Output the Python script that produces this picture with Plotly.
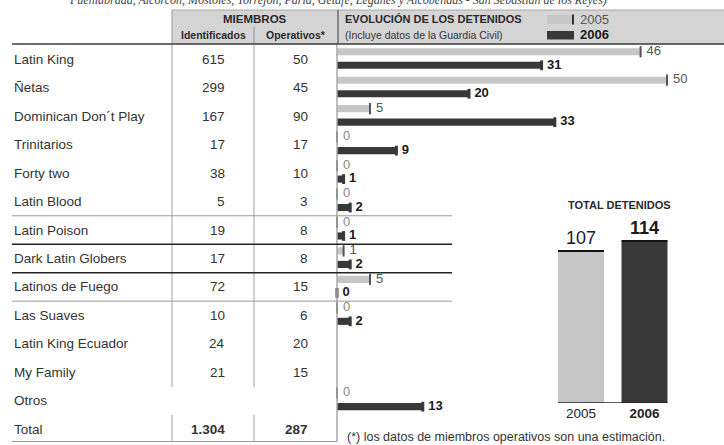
import plotly.graph_objects as go

# ---------------- data ----------------
gangs = ["Latin King", "Ñetas", "Dominican Don´t Play", "Trinitarios", "Forty two",
         "Latin Blood", "Latin Poison", "Dark Latin Globers", "Latinos de Fuego",
         "Las Suaves", "Latin King Ecuador", "My Family", "Otros", "Total"]
identificados = [615, 299, 167, 17, 38, 5, 19, 17, 72, 10, 24, 21, None, 1304]
operativos = [50, 45, 90, 17, 10, 3, 8, 8, 15, 6, 20, 15, None, 287]
det_2005 = [46, 50, 5, 0, 0, 0, 0, 1, 5, 0, None, None, 0]
det_2006 = [31, 20, 33, 9, 1, 2, 1, 2, 0, 2, None, None, 13]
years = ["2005", "2006"]
total_detenidos = [107, 114]
separators = [(5.5, "#9a9a9a", 1), (6.5, "#222222", 1.5), (7.5, "#222222", 1.5), (8.5, "#9a9a9a", 1)]

# ---------------- layout helpers ----------------
W, H = 724, 445
ROW0, ROWH = 59.3, 28.45
PXU = 6.6           # pixels per detainee in the row bars
AX0 = 337           # pixel x of bar axis
FONT = "Liberation Sans, Arial, Helvetica, sans-serif"
C05, C06 = "#c6c6c6", "#383838"
TXT = "#2a2a2a"


def fx(p):
    return p / W


def fy(p):
    return 1 - p / H


def fmt(v):
    return f"{v:,}".replace(",", ".")


fig = go.Figure()

OFF05, OFF06, BW = -0.265, 0.21, 0.25

r05 = [i for i, v in enumerate(det_2005) if v is not None]
r06 = [i for i, v in enumerate(det_2006) if v is not None]

fig.add_trace(go.Bar(orientation="h", x=[det_2005[i] for i in r05], y=[i + OFF05 for i in r05],
                     width=BW, marker=dict(color=C05, line_width=0), showlegend=False,
                     xaxis="x", yaxis="y"))
fig.add_trace(go.Bar(orientation="h", x=[det_2006[i] for i in r06], y=[i + OFF06 for i in r06],
                     width=BW, marker=dict(color=C06, line_width=0), showlegend=False,
                     xaxis="x", yaxis="y"))

fig.add_trace(go.Scatter(
    x=[det_2005[i] for i in r05], y=[i + OFF05 for i in r05], mode="markers+text",
    marker=dict(symbol="line-ns", size=8, line=dict(width=2, color="#555555")),
    text=[str(det_2005[i]) for i in r05], textposition="middle right",
    textfont=dict(family=FONT, size=13, color=["#888888" if det_2005[i] == 0 else "#555555" for i in r05]),
    cliponaxis=False, showlegend=False, hoverinfo="skip"))
fig.add_trace(go.Scatter(
    x=[det_2006[i] for i in r06], y=[i + OFF06 for i in r06], mode="markers+text",
    marker=dict(symbol="line-ns", size=7, line=dict(width=3, color=C06)),
    text=[f"<b>{det_2006[i]}</b>" for i in r06], textposition="middle right",
    textfont=dict(family=FONT, size=13, color="#1a1a1a"),
    cliponaxis=False, showlegend=False, hoverinfo="skip"))

# total chart
fig.add_trace(go.Bar(x=years, y=total_detenidos, xaxis="x2", yaxis="y2", width=0.724,
                     marker=dict(color=[C05, C06], line_width=0),
                     text=[str(total_detenidos[0]), f"<b>{total_detenidos[1]}</b>"],
                     textposition="outside", textfont=dict(family=FONT, size=18, color="#1a1a1a"),
                     cliponaxis=False, showlegend=False))

shapes = []
ann = []


def hline(y, x0, x1, color, width=1, yref="paper"):
    shapes.append(dict(type="line", xref="paper", yref=yref, x0=fx(x0), x1=fx(x1),
                       y0=y if yref != "paper" else fy(y), y1=y if yref != "paper" else fy(y),
                       line=dict(color=color, width=width), layer="above"))


def vline(x, y0, y1, color, width=1):
    shapes.append(dict(type="line", xref="paper", yref="paper", x0=fx(x), x1=fx(x),
                       y0=fy(y0), y1=fy(y1), line=dict(color=color, width=width), layer="above"))


# header band
shapes.append(dict(type="rect", xref="paper", yref="paper", x0=fx(172), x1=1, y0=fy(44), y1=fy(10),
                   fillcolor="#d5d5d5", line_width=0, layer="below"))
hline(10, 172, 724, "#a8a8a8", 1)
vline(172, 10, 44, "#9a9a9a", 1)
vline(254, 27, 44, "#8a8a8a", 1)
vline(338, 10, 44, "#6a6a6a", 1.5)
hline(44, 12, 724, "#3a3a3a", 1.5)

# table dividers (gap at "Otros" row)
for xv in (172, 254):
    vline(xv, 45, 387, "#a0a0a0", 1)
    vline(xv, 415, 441.5, "#a0a0a0", 1)
vline(AX0, 45, 441.5, "#a8a8a8", 1.5)
hline(441.5, 12, AX0, "#9a9a9a", 1)
for yv, col, w in separators:
    hline(yv, 12, 452, col, w, yref="y")

# legend swatches
shapes.append(dict(type="rect", xref="paper", yref="paper", x0=fx(547), x1=fx(574), y0=fy(24), y1=fy(15),
                   fillcolor=C05, line_width=0))
vline(573, 14.5, 24.5, "#333333", 2)
shapes.append(dict(type="rect", xref="paper", yref="paper", x0=fx(547), x1=fx(574), y0=fy(39.5), y1=fy(31),
                   fillcolor=C06, line_width=0))

# total chart borders
half = 0.724 / 2
for i, v in enumerate(total_detenidos):
    shapes.append(dict(type="line", xref="x2", yref="y2", x0=i - half, x1=i + half, y0=v, y1=v,
                       line=dict(color="#111111", width=2)))
shapes.append(dict(type="line", xref="x2", yref="y2", x0=-half, x1=len(total_detenidos) - 1 + half,
                   y0=0, y1=0, line=dict(color="#222222", width=1.5)))

# ---------------- texts ----------------
def text(x, y, s, size, color=TXT, xanchor="center", yanchor="middle", yref="paper"):
    ann.append(dict(x=fx(x), y=y if yref != "paper" else fy(y), xref="paper", yref=yref, text=s,
                    showarrow=False, xanchor=xanchor, yanchor=yanchor,
                    font=dict(family=FONT, size=size, color=color)))


# clipped line of previous text (cut off at the top edge, as in the original)
ann.append(dict(x=fx(338), y=fy(9), xref="paper", yref="paper", showarrow=False,
                xanchor="center", yanchor="bottom",
                text="<i>Fuenlabrada, Alcorcón, Móstoles, Torrejón, Parla, Getafe, Leganés y Alcobendas - San Sebastián de los Reyes)</i>",
                font=dict(family="Liberation Serif, Times New Roman, serif", size=12, color="#444444")))

text(255, 19, "<b>MIEMBROS</b>", 11.5)
text(213, 34.5, "<b>Identificados</b>", 10.5)
text(296, 34.5, "<b>Operativos*</b>", 10.5)
text(343, 19, "<b>EVOLUCIÓN DE LOS DETENIDOS</b>", 11, xanchor="left")
text(343, 35, "(Incluye datos de la Guardia Civil)", 10.5, color="#333333", xanchor="left")
text(578, 19.5, years[0], 13, color="#555555", xanchor="left")
text(578, 35, f"<b>{years[1]}</b>", 13, color="#1a1a1a", xanchor="left")

last = len(gangs) - 1
for i, g in enumerate(gangs):
    text(12, i, g, 13.5, color="#333333", xanchor="left", yref="y")
    b = (lambda s: f"<b>{s}</b>") if i == last else (lambda s: s)
    if identificados[i] is not None:
        text(227, i, b(fmt(identificados[i])), 13.5, color="#333333", xanchor="right", yref="y")
    if operativos[i] is not None:
        text(310, i, b(fmt(operativos[i])), 13.5, color="#333333", xanchor="right", yref="y")

text(619, 205, "<b>TOTAL DETENIDOS</b>", 11)
text(345, 437, "(*) los datos de miembros operativos son una estimación.", 12.5, color="#333333", xanchor="left")

# ---------------- axes ----------------
xmax = (W - AX0) / PXU
ytop = -ROW0 / ROWH
ybot = (H - ROW0) / ROWH
base_px = 403
ppu_tot = 1.42
ymax2 = 130

fig.update_layout(
    width=W, height=H, margin=dict(l=0, r=0, t=0, b=0),
    paper_bgcolor="white", plot_bgcolor="rgba(0,0,0,0)",
    barmode="overlay", showlegend=False,
    font=dict(family=FONT, color=TXT),
    xaxis=dict(domain=[fx(AX0), 1], range=[0, xmax], visible=False, fixedrange=True),
    yaxis=dict(domain=[0, 1], range=[ybot, ytop], visible=False, fixedrange=True),
    xaxis2=dict(domain=[fx(549.25), fx(676.25)], type="category", range=[-0.5, 1.5], anchor="y2",
                showgrid=False, zeroline=False, showline=False, ticks="",
                tickvals=years, ticktext=[years[0], f"<b>{years[1]}</b>"],
                tickfont=dict(family=FONT, size=13.5, color="#222222")),
    yaxis2=dict(domain=[fy(base_px), fy(base_px - ymax2 * ppu_tot)], range=[0, ymax2], anchor="x2",
                visible=False),
    shapes=shapes, annotations=ann,
)

fig.write_html("out.html", config={"displayModeBar": False},
               post_script="document.body.style.margin='0px';document.body.style.overflow='hidden';")
